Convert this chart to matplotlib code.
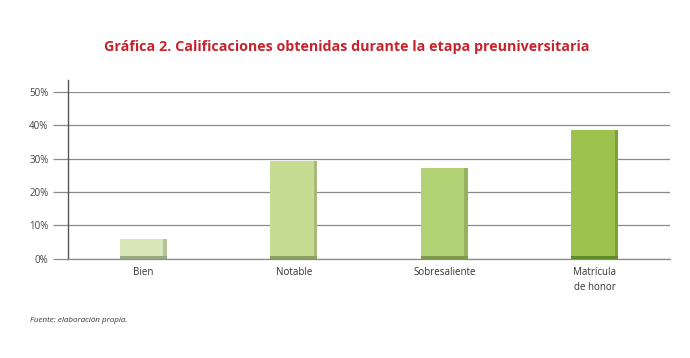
import numpy as np
import matplotlib.pyplot as plt
from matplotlib.ticker import PercentFormatter

categories = ['Bien', 'Notable', 'Sobresaliente', 'Matrícula\nde honor']
values = [5.8, 29.2, 27.2, 38.6]
bar_colors = ['#d6e6b6', '#c6dc93', '#b3d275', '#9dc34e']
shade_colors = ['#98a880', '#8aa060', '#7c9a48', '#5f8a28']
yticks = [0, 10, 20, 30, 40, 50]

plt.rcParams['font.family'] = ['Open Sans', 'DejaVu Sans']

fig = plt.figure(figsize=(6.9, 3.58), dpi=100)
ax = fig.add_axes([0.0986, 0.277, 0.8725, 0.466])

x = np.arange(len(categories))
width = 0.31
ax.bar(x, values, width=width, color=bar_colors, zorder=3)
# darker base and right edge for the 3D look
ax.bar(x, [0.9] * len(values), width=width, color=shade_colors, zorder=4)
ax.bar(x + width / 2 - 0.012, values, width=0.024, color=shade_colors, alpha=0.55, zorder=4)

ax.set_xlim(-0.5, len(categories) - 0.5)
ax.set_ylim(0, 50)
ax.set_yticks(yticks)
ax.yaxis.set_major_formatter(PercentFormatter(decimals=0))
ax.grid(axis='y', color='#8a8a8a', linewidth=0.9, zorder=0)
ax.set_xticks(x)
ax.set_xticklabels(categories, fontsize=7, color='#333333', linespacing=1.5)
ax.tick_params(axis='x', length=0, pad=6)
ax.tick_params(axis='y', length=11, color='#8a8a8a', width=0.9, labelsize=7, labelcolor='#444444', pad=3)

for side in ['top', 'right']:
    ax.spines[side].set_visible(False)
ax.spines['left'].set_color('#555555')
ax.spines['left'].set_linewidth(1.0)
ax.spines['left'].set_bounds(0, 53.5)
ax.spines['bottom'].set_color('#8a8a8a')
ax.spines['bottom'].set_linewidth(0.9)

fig.text(0.502, 0.868, 'Gráfica 2. Calificaciones obtenidas durante la etapa preuniversitaria',
         ha='center', va='center', fontsize=10.3, fontweight='bold', color='#c8232c')
fig.text(0.043, 0.105, 'Fuente: elaboración propia.', ha='left', va='center',
         fontsize=5.8, style='italic', color='#333333')

fig.savefig('out.png', dpi=100)
